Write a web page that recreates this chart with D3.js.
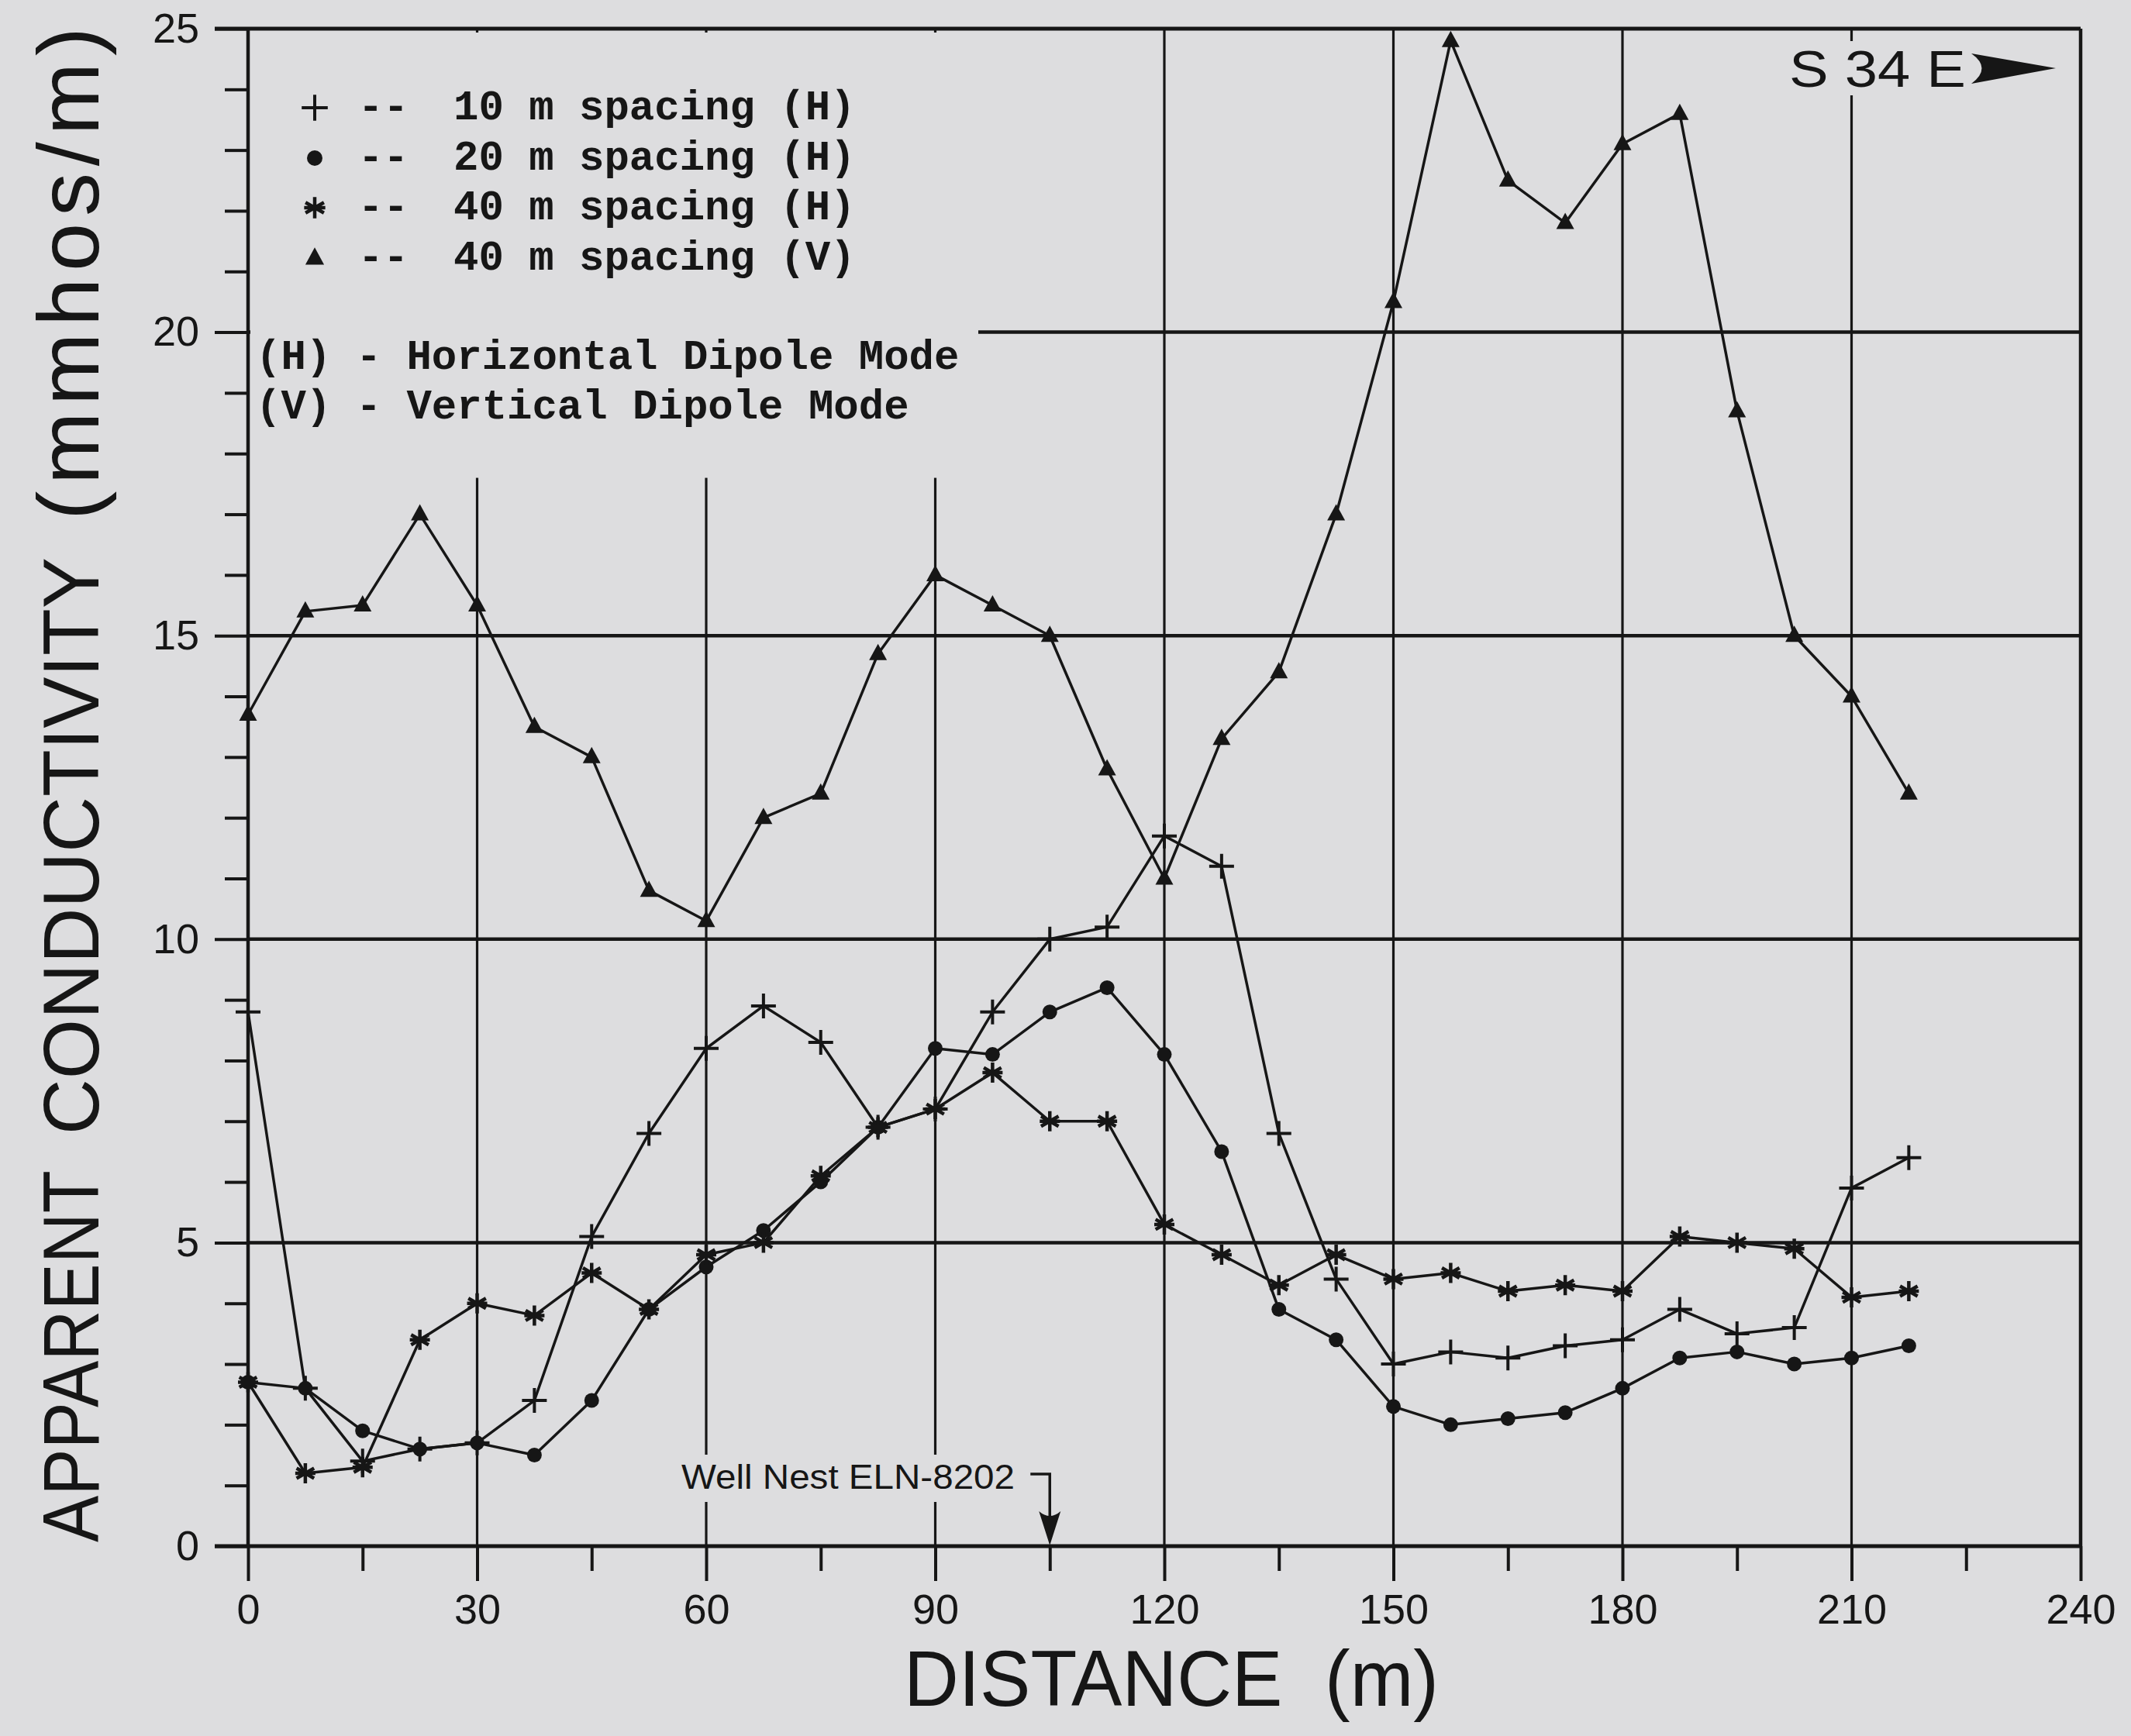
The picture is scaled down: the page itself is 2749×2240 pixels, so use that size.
<!DOCTYPE html>
<html><head><meta charset="utf-8">
<script src="https://cdn.jsdelivr.net/npm/d3@7"></script>
<style>
html,body{margin:0;padding:0;background:#dddddf;}
svg{display:block;}
</style></head><body>
<svg id="chart" width="2749" height="2240"></svg>
<script>
// ---------------- data ----------------
const distance   = [0,7.5,15,22.5,30,37.5,45,52.5,60,67.5,75,82.5,90,97.5,105,112.5,120,127.5,135,142.5,150,157.5,165,172.5,180,187.5,195,202.5,210,217.5];
const spacing10H = [8.8,2.6,1.4,1.6,1.7,2.4,5.1,6.8,8.2,8.9,8.3,6.9,7.2,8.8,10.0,10.2,11.7,11.2,6.8,4.4,3.0,3.2,3.1,3.3,3.4,3.9,3.5,3.6,5.9,6.4];
const spacing20H = [2.7,2.6,1.9,1.6,1.7,1.5,2.4,3.9,4.6,5.2,6.0,6.9,8.2,8.1,8.8,9.2,8.1,6.5,3.9,3.4,2.3,2.0,2.1,2.2,2.6,3.1,3.2,3.0,3.1,3.3];
const spacing40H = [2.7,1.2,1.3,3.4,4.0,3.8,4.5,3.9,4.8,5.0,6.1,6.9,7.2,7.8,7.0,7.0,5.3,4.8,4.3,4.8,4.4,4.5,4.2,4.3,4.2,5.1,5.0,4.9,4.1,4.2];
const spacing40V = [13.7,15.4,15.5,17.0,15.5,13.5,13.0,10.8,10.3,12.0,12.4,14.7,16.0,15.5,15.0,12.8,11.0,13.3,14.4,17.0,20.5,24.8,22.5,21.8,23.1,23.6,18.7,15.0,14.0,12.4];

const xTicks      = [0,30,60,90,120,150,180,210,240];
const xMinorTicks = [15,45,75,105,135,165,195,225];
const yTicks      = [0,5,10,15,20,25];
const yMinorTicks = [1,2,3,4,6,7,8,9,11,12,13,14,16,17,18,19,21,22,23,24];

const legendLabels = ["10 m spacing (H)","20 m spacing (H)","40 m spacing (H)","40 m spacing (V)"];
const modeNotes    = ["(H) - Horizontal Dipole Mode","(V) - Vertical Dipole Mode"];
const xTitle = "DISTANCE  (m)";
const yTitleParts = ["APPARENT","CONDUCTIVITY","(mmhos/m)"];
const wellLabel = "Well Nest ELN-8202";
const wellDistance = 105;
const bearingLabel = "S 34 E";

// ---------------- setup ----------------
const INK = "#161616";
const BG = "#dddddf";
const svg = d3.select("#chart");
svg.append("rect").attr("width",2749).attr("height",2240).attr("fill",BG);

const x = d3.scaleLinear().domain([0,240]).range([320,2684]);
const y = d3.scaleLinear().domain([0,25]).range([1995,37]);

// horizontal grid lines
svg.append("g").selectAll("line").data(yTicks.filter(v=>v>0 && v<25)).join("line")
  .attr("x1",x(0)).attr("x2",x(240)).attr("y1",d=>y(d)).attr("y2",d=>y(d))
  .attr("stroke",INK).attr("stroke-width",4.5);
// vertical grid lines
svg.append("g").selectAll("line").data(xTicks.filter(v=>v>0 && v<240)).join("line")
  .attr("x1",d=>x(d)).attr("x2",d=>x(d)).attr("y1",y(0)).attr("y2",y(25))
  .attr("stroke",INK).attr("stroke-width",3.2);

// cover area behind legend (grid lines interrupted there)
svg.append("rect").attr("x",323).attr("y",42).attr("width",1262-323).attr("height",y(17.6)-42).attr("fill",BG);
// gap behind well label
svg.append("rect").attr("x",870).attr("y",1877).attr("width",450).attr("height",61).attr("fill",BG);
// gap behind bearing text
svg.append("rect").attr("x",2300).attr("y",53).attr("width",360).attr("height",70).attr("fill",BG);

// axes (ticks + labels)
function styleAxis(g){
  g.select(".domain").remove();
  g.selectAll(".tick line").attr("stroke",INK).attr("stroke-width",4);
  g.selectAll(".tick text").attr("fill",INK)
    .attr("font-family","'Liberation Sans', Arial, sans-serif").attr("font-size",54);
}
svg.append("g").attr("transform",`translate(0,${y(0)})`)
  .call(d3.axisBottom(x).tickValues(xTicks).tickSize(45).tickPadding(17).tickFormat(d3.format("d")))
  .call(styleAxis);
svg.append("g").attr("transform",`translate(0,${y(0)})`)
  .call(d3.axisBottom(x).tickValues(xMinorTicks).tickSize(32).tickFormat(""))
  .call(styleAxis);
svg.append("g").attr("transform",`translate(${x(0)},0)`)
  .call(d3.axisLeft(y).tickValues(yTicks).tickSize(43).tickPadding(20).tickFormat(d3.format("d")))
  .call(styleAxis);
svg.append("g").attr("transform",`translate(${x(0)},0)`)
  .call(d3.axisLeft(y).tickValues(yMinorTicks).tickSize(30).tickFormat(""))
  .call(styleAxis);

// frame
svg.append("line").attr("x1",x(0)-43).attr("x2",x(240)).attr("y1",y(0)).attr("y2",y(0)).attr("stroke",INK).attr("stroke-width",5);
svg.append("line").attr("x1",x(0)-43).attr("x2",x(240)).attr("y1",y(25)).attr("y2",y(25)).attr("stroke",INK).attr("stroke-width",5);
svg.append("line").attr("x1",x(0)).attr("x2",x(0)).attr("y1",y(0)).attr("y2",y(25)).attr("stroke",INK).attr("stroke-width",4.5);
svg.append("line").attr("x1",x(240)).attr("x2",x(240)).attr("y1",y(0)).attr("y2",y(25)).attr("stroke",INK).attr("stroke-width",4.5);

// ---------------- markers ----------------
const markerPaths = {
  plus: "M-16,0H16M0,-16V16",
  star: "M0,-13V13M-11.3,-6.5L11.3,6.5M-11.3,6.5L11.3,-6.5M-13,0H13",
  tri:  "M0,-13L11.5,8L-11.5,8Z"
};
function drawMarker(g, type, cx, cy, scale=1){
  if(type==="circle"){
    g.append("circle").attr("cx",cx).attr("cy",cy).attr("r",9.5*scale).attr("fill",INK);
  } else if(type==="tri"){
    g.append("path").attr("d",markerPaths.tri).attr("transform",`translate(${cx},${cy}) scale(${scale})`).attr("fill",INK);
  } else {
    g.append("path").attr("d",markerPaths[type]).attr("transform",`translate(${cx},${cy}) scale(${scale})`)
      .attr("stroke",INK).attr("stroke-width",(type==="star"?4.5:4)/scale).attr("fill","none");
  }
}

const seriesList = [
  {values: spacing10H, marker:"plus"},
  {values: spacing20H, marker:"circle"},
  {values: spacing40H, marker:"star"},
  {values: spacing40V, marker:"tri"}
];
const line = d3.line().x((d,i)=>x(distance[i])).y(d=>y(d));
const gData = svg.append("g");
seriesList.forEach(s=>{
  gData.append("path").datum(s.values).attr("d",line)
    .attr("fill","none").attr("stroke",INK).attr("stroke-width",3.5).attr("stroke-linejoin","round");
});
seriesList.forEach(s=>{
  s.values.forEach((v,i)=>drawMarker(gData, s.marker, x(distance[i]), y(v)));
});

// ---------------- legend ----------------
const legendRowY = [154,219,283,348];
const gLeg = svg.append("g");
legendLabels.forEach((lab,i)=>{
  drawMarker(gLeg, seriesList[i].marker, 406, legendRowY[i]-15, 1.05);
  gLeg.append("text").attr("x",462).attr("y",legendRowY[i]).text("--");
  gLeg.append("text").attr("x",585).attr("y",legendRowY[i]).text(lab);
});
modeNotes.forEach((t,i)=>{
  gLeg.append("text").attr("x",330).attr("y",[476,540][i]).text(t);
});
gLeg.selectAll("text").attr("font-family","'Liberation Mono','Courier New',monospace")
  .attr("font-size",54).attr("font-weight","bold").attr("fill",INK).attr("xml:space","preserve")
  .style("white-space","pre");

// ---------------- axis titles ----------------
svg.append("text").attr("x",1166).attr("y",2201).text(xTitle)
  .attr("font-family","'Liberation Sans', Arial, sans-serif").attr("font-size",102).attr("fill",INK)
  .style("white-space","pre").attr("textLength",690).attr("lengthAdjust","spacingAndGlyphs");

const yTitleStart = [1990,1464,671];
const yTitleLen   = [480,745,636];
const yTitleSize  = [102,102,112];
yTitleParts.forEach((t,i)=>{
  svg.append("text").attr("transform",`translate(127,${yTitleStart[i]}) rotate(-90)`).text(t)
    .attr("font-family","'Liberation Sans', Arial, sans-serif").attr("font-size",yTitleSize[i]).attr("fill",INK)
    .attr("textLength",yTitleLen[i]).attr("lengthAdjust",i===2?"spacing":"spacingAndGlyphs");
});

// ---------------- annotations ----------------
// bearing
svg.append("text").attr("x",2308).attr("y",112).text(bearingLabel)
  .attr("font-family","'Liberation Sans', Arial, sans-serif").attr("font-size",66).attr("fill",INK)
  .style("white-space","pre").attr("textLength",228).attr("lengthAdjust","spacingAndGlyphs");
svg.append("path").attr("d","M2543,69 Q2570,88 2543,108 L2652,88 Z").attr("fill",INK);

// well nest
const wx = x(wellDistance);
svg.append("text").attr("x",879).attr("y",1921).text(wellLabel)
  .attr("font-family","'Liberation Sans', Arial, sans-serif").attr("font-size",44).attr("fill",INK)
  .attr("textLength",430).attr("lengthAdjust","spacingAndGlyphs");
svg.append("path").attr("d",`M${wx-25},1902H${wx}V1960`).attr("fill","none").attr("stroke",INK).attr("stroke-width",3.5);
svg.append("path").attr("d",`M${wx},${y(0)-1} L${wx-14},1950 Q${wx},1962 ${wx+14},1950 Z`).attr("fill",INK);
</script>
</body></html>
